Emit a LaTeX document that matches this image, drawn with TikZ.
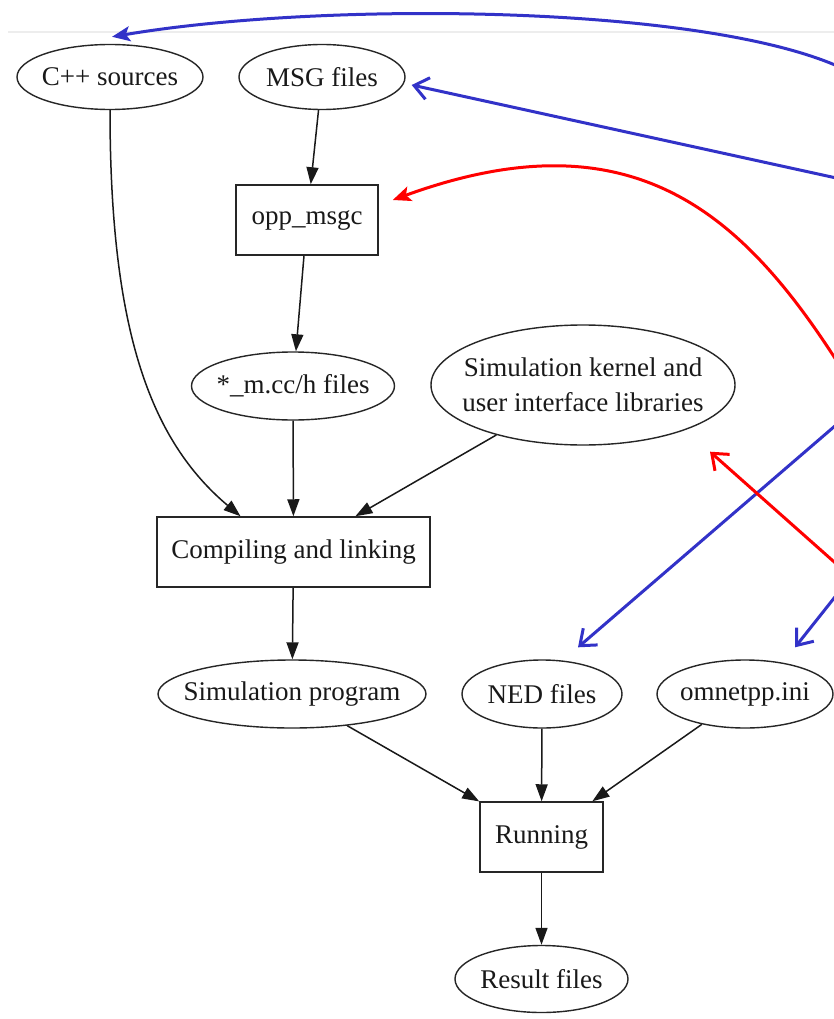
\documentclass[tikz,border=0pt]{standalone}
\usepackage{fontspec}
\setmainfont{Liberation Serif}
\usetikzlibrary{shapes.geometric,arrows.meta,calc}
\definecolor{flowblue}{RGB}{50,50,200}
\definecolor{flowred}{RGB}{255,0,0}
\begin{document}
\begin{tikzpicture}[x=1pt,y=-1pt,
  every node/.style={font=\fontsize{27}{35}\selectfont, text=black!90},
  file/.style={ellipse, draw=black!85, line width=1.4pt, inner xsep=-30pt,
    inner ysep=0pt, minimum height=67pt, minimum width=#1},
  file/.default=170pt,
  tool/.style={rectangle, draw=black!85, line width=1.5pt, inner sep=0pt,
    minimum height=70pt, minimum width=#1},
  flow/.style={line width=1.5pt, draw=black!90,
    -{Triangle[length=17pt,width=12pt]}},
  hint/.style={line width=3pt, -{Straight Barb[length=14pt,width=22pt]}},
  bendhint/.style={line width=3pt, -{Stealth[length=18pt,width=15pt,inset=4pt]}},
]
% page and the faint frame line
\fill[white] (0,0) rectangle (834,1019);
\useasboundingbox (0,0) rectangle (834,1019);
\draw[black!7, line width=1.2pt] (8,32) -- (834,32);

% build inputs and tools
\node[file=186pt, minimum height=65pt] (cpp) at (110,77) {C++ sources};
\node[file=166pt, minimum height=65pt] (msg) at (322,77) {MSG files};
\node[tool=142pt] (opp) at (307,220) {opp\_msgc};
\node[file=203pt, minimum height=68pt] (mcc) at (293,386) {*\_m.cc/h files};
\node[file=304pt, minimum height=120pt, inner xsep=-16pt, align=center]
  (kernel) at (583,385) {Simulation kernel and\\user interface libraries};
\node[tool=273pt] (comp) at (293.5,552) {Compiling and linking};

% run inputs
\node[file=268pt, minimum height=68pt] (prog) at (292,694) {Simulation program};
\node[file=160pt, minimum height=68pt] (ned) at (542,694) {NED files};
\node[file=176pt, minimum height=68pt] (ini) at (745,694) {omnetpp.ini};
\node[tool=123pt] (run) at (541.5,837) {Running};
\node[file=173pt, minimum height=67pt] (res) at (541.5,979) {Result files};

% build and run flow
\draw[flow] (cpp.south) .. controls (110,330) and (150,440) .. ($(comp.north)+(-53,0)$);
\draw[flow] (msg) -- (opp);
\draw[flow] (opp) -- (mcc);
\draw[flow] (mcc) -- (comp);
\draw[flow] (kernel) -- (comp);
\draw[flow] (comp) -- (prog);
\draw[flow] (prog) -- (run);
\draw[flow] (ned) -- (run);
\draw[flow] (ini) -- (run);
\draw[flow] (run) -- (res);

% pointers coming in from the right
\coordinate (inA) at (850,72);
\coordinate (inB) at (850,181);
\coordinate (inC) at (850,382);
\coordinate (inD) at (850,413);
\coordinate (inE) at (850,576);
\coordinate (inF) at (850,578);

\draw[bendhint, flowblue] (inA) .. controls (720,5) and (330,0) .. ($(cpp.north)+(2,-7)$);
\draw[hint, flowblue] (inB) -- ($(msg.east)+(6,8)$);
\draw[bendhint, flowred] (inC) .. controls (750,220) and (640,110) .. ($(opp.east)+(14,-20)$);
\draw[hint, flowblue] (inD) -- ($(ned.north)+(36,-12)$);
\draw[hint, flowred] (inE) -- ($(kernel.south)+(127,6)$);
\draw[hint, flowblue] (inF) -- ($(ini.north)+(50,-12)$);
\end{tikzpicture}
\end{document}
